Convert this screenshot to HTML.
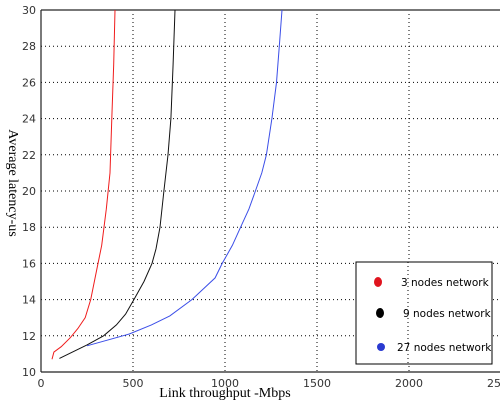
<!DOCTYPE html>
<html><head><meta charset="utf-8"><style>
html,body{margin:0;padding:0;background:#fff;width:500px;height:403px;overflow:hidden}
svg text{font-family:"DejaVu Sans","Liberation Sans",sans-serif}
</style></head><body>
<svg id="chart" width="500" height="403" viewBox="0 0 500 403" xmlns="http://www.w3.org/2000/svg">
<g id="grid"></g>
<g id="axes"></g>
<g id="series"></g>
<text x="225" y="397" text-anchor="middle" font-size="14" style="font-family:'Liberation Serif',serif">Link throughput -Mbps</text>
<text transform="translate(9,183) rotate(90)" text-anchor="middle" font-size="14" style="font-family:'Liberation Serif',serif">Average latency-us</text>
<g>
<rect x="356" y="262" width="136" height="102" fill="#fff" stroke="#000" stroke-width="1"/>
<line x1="408" y1="262" x2="408" y2="364" stroke="#000" stroke-dasharray="1,3"/>
<g><ellipse cx="378" cy="282" rx="4" ry="5" fill="#e0141e"/><text x="401" y="286" font-size="10.5">3 nodes network</text></g>
<g><ellipse cx="380" cy="313" rx="4" ry="5" fill="#000"/><text x="403" y="317" font-size="10.5">9 nodes network</text></g>
<g><ellipse cx="381" cy="347" rx="4" ry="4" fill="#2a3ad0"/><text x="397" y="351" font-size="10.5">27 nodes network</text></g>
</g>
</svg>
<script>
const xTicks=[0,500,1000,1500,2000,2500];
const yTicks=[10,12,14,16,18,20,22,24,26,28,30];
const red3X=[60,70,110,160,200,240,270,300,330,355,375,385,395,402];
const red3Y=[10.7,11.1,11.4,11.9,12.4,13,14,15.5,17,19,21,24,27,30];
const black9X=[100,150,250,340,410,460,505,560,603,625,647,668,690,706,718,728];
const black9Y=[10.75,11,11.5,12,12.6,13.2,14,15,16,16.8,18,20,22,24,27,30];
const blue27X=[250,480,600,700,820,946,985,1040,1085,1130,1165,1200,1225,1255,1280,1295,1310];
const blue27Y=[11.45,12.1,12.6,13.1,14,15.2,16,17,18,19,20,21,22,24,26,28,30];
const L=41,R=501,T=10,B=372;
const sx=v=>L+(v-0)/2500*(R-L);
const sy=v=>B-(v-10)/20*(B-T);
const NS="http://www.w3.org/2000/svg";
function mk(tag,attrs,parent){const e=document.createElementNS(NS,tag);for(const k in attrs)e.setAttribute(k,attrs[k]);parent.appendChild(e);return e;}
const grid=document.getElementById('grid'),axes=document.getElementById('axes'),series=document.getElementById('series');
xTicks.forEach(v=>{
  if(v>0&&v<2500){const l=mk('line',{x1:sx(v),x2:sx(v),y1:T,y2:B,stroke:'#000','stroke-dasharray':'1,3'},grid);
  
  }
  const t=mk('text',{x:sx(v),y:B+15,'text-anchor':'middle','font-size':'11',fill:'#333'},axes);
  
  
  t.textContent=v;
});
yTicks.forEach(v=>{
  if(v>10&&v<30){const l=mk('line',{x1:L,x2:R,y1:sy(v),y2:sy(v),stroke:'#000','stroke-dasharray':'1,3'},grid);
  
  }
  const t=mk('text',{x:L-5,y:sy(v)+4,'text-anchor':'end','font-size':'11',fill:'#333'},axes);
  
  
  t.textContent=v;
});
const topBorder=mk('line',{x1:L,x2:R,y1:T,y2:T,stroke:'#777','stroke-width':'2'},axes);


const ya=mk('line',{x1:L,x2:L,y1:T,y2:B,stroke:'#222','stroke-width':'1.2'},axes);


const xa=mk('line',{x1:L,x2:R,y1:B,y2:B,stroke:'#222','stroke-width':'1.2'},axes);


function line(xs,ys,c,name){
  const d=xs.map((x,i)=>(i?'L':'M')+sx(x).toFixed(1)+','+sy(ys[i]).toFixed(1)).join(' ');
  const p=mk('path',{d:d,fill:'none',stroke:c,'stroke-width':'1'},series);
  
  
}
line(red3X,red3Y,'#f01c1c','line-3-nodes');
line(black9X,black9Y,'#111','line-9-nodes');
line(blue27X,blue27Y,'#3b4ee8','line-27-nodes');
</script>
</body></html>
